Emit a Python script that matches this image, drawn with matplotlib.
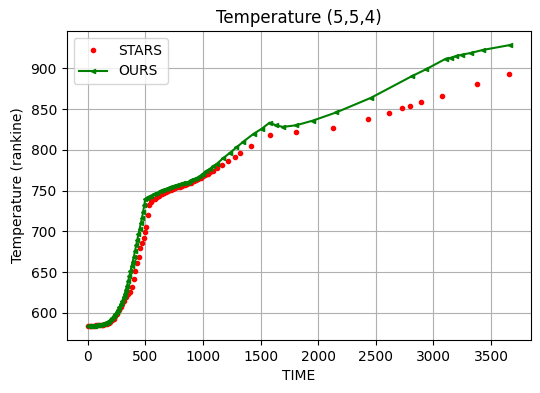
import matplotlib
matplotlib.use("Agg")
import matplotlib.pyplot as plt

# donnees
stars_time = [0, 15, 30, 45, 60, 75, 90, 105, 120, 135, 150, 165, 180, 195, 210,
              225, 240, 255, 270, 285, 300, 315, 330, 345, 363, 383, 398, 412, 427,
              441, 455, 470, 484, 496, 507, 519, 533, 545, 560, 580, 600, 620, 640,
              660, 680, 700, 720, 740, 760, 780, 800, 820, 840, 860, 880, 900, 920,
              940, 960, 980, 1000, 1020, 1040, 1060, 1089, 1118, 1167, 1219, 1279,
              1322, 1415, 1579, 1804, 2126, 2428, 2610, 2731, 2798, 2895, 3077,
              3379, 3653]
stars_temp = [584.4, 584, 584, 584, 584.3, 584.5, 584.8, 585, 585.3, 585.6, 586,
              586.7, 587.5, 589, 591, 593, 596, 599, 603, 607, 611, 615, 619, 623,
              626, 632, 641, 652, 661, 669, 680, 686, 692, 699, 706, 720, 733, 736,
              738, 740, 742, 744, 745.5, 747, 748.5, 750, 751, 752, 753, 754, 755,
              756, 757, 758, 759, 760, 761.5, 763, 764.5, 766, 767.5, 769, 771, 773,
              774.6, 778, 781, 786, 791.4, 796.4, 805.3, 818.9, 822.2, 827.1, 838.2,
              845.5, 851.7, 854.1, 859.1, 866.4, 881.2, 893.5]

ours_time = [0, 10, 20, 30, 40, 50, 60, 70, 80, 90, 100, 110, 120, 130, 140, 150,
             162, 175, 187, 200, 212, 225, 237, 250, 262, 275, 287, 300, 310, 320,
             330, 340, 350, 360, 370, 380, 390, 400, 410, 420, 430, 440, 450, 460,
             470, 480, 490, 499, 510, 525, 550, 575, 600, 625, 650, 675, 700, 725,
             750, 775, 800, 825, 850, 875, 900, 925, 950, 975, 1000, 1030, 1060,
             1090, 1120, 1176, 1233, 1290, 1348, 1441, 1510, 1578, 1637, 1694,
             1810, 1953, 2155, 2458, 2812, 2933, 3106, 3149, 3192, 3250, 3322,
             3428, 3662]
ours_temp = [584, 584, 584, 584, 584, 584.2, 584.3, 584.5, 584.7, 585, 585.2,
             585.5, 585.8, 586.2, 586.6, 587, 588, 589, 590.5, 592, 594, 596, 598.5,
             601, 604, 607, 611, 615, 619, 623, 628, 633, 639, 645, 651, 657, 663,
             669, 676, 683, 690, 697, 703, 710, 716, 724, 732, 740, 741, 742, 744,
             746, 747, 749, 751, 752, 753, 755, 756, 757, 758, 759, 760, 761, 763,
             764, 766, 768, 771, 774, 777, 780, 783, 790, 796.4, 803, 810, 820,
             826, 833.5, 830, 828.3, 830.3, 836, 846, 864, 890.5, 898.8, 911.9,
             913, 915, 917, 919, 922.7, 928.7]

fig = plt.figure(figsize=(5.4, 3.93), dpi=100)
fig.subplots_adjust(left=0.1235, right=0.983, bottom=0.135, top=0.921)
ax = fig.add_subplot(1, 1, 1)
ax.plot(stars_time, stars_temp, 'r.', label='STARS')
ax.plot(ours_time, ours_temp, 'g-<', markersize=3, label='OURS')
ax.set_title('Temperature (5,5,4)')
ax.set_xlabel('TIME')
ax.set_ylabel('Temperature (rankine)')
ax.grid(True)
ax.legend(loc='upper left')
fig.savefig('out.png', dpi=100)
